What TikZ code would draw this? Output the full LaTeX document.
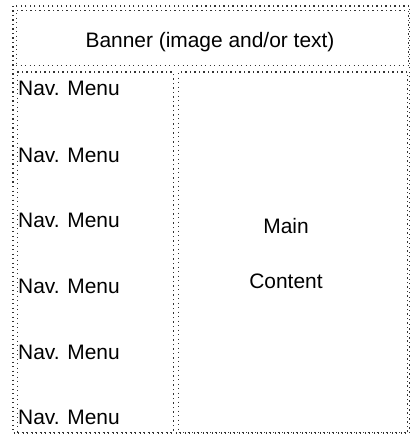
\documentclass[tikz,border=0pt]{standalone}
\usepackage{fontspec}
\setmainfont{Liberation Sans}
\begin{document}
\begin{tikzpicture}[x=1bp,y=-1bp,
  dotline/.style={draw=black!80, line width=1.1bp, dash pattern=on 1.1bp off 3.4bp},
  lbl/.style={font=\fontsize{21}{24}\selectfont, inner sep=0pt, text=black},
  navlbl/.style={lbl, anchor=west}]
\useasboundingbox (0,0) rectangle (411,437);
% outer table
\draw[dotline] (13,6) rectangle (409.5,433);
% cells
\node[dotline, minimum width=392bp, minimum height=55bp, anchor=north west, inner sep=0pt] (banner) at (15.5,10) {};
\node[dotline, minimum width=156bp, minimum height=360bp, anchor=north west, inner sep=0pt] (nav) at (16.5,71.5) {};
\node[dotline, minimum width=229bp, minimum height=360bp, anchor=north west, inner sep=0pt] (main) at (178,71.5) {};
% texts
\node[lbl] (bannertext) at (210,42) {Banner (image and/or text)};
\node[navlbl] (n1) at (18,88) {Nav. Menu};
\node[navlbl] (n2) at (18,155) {Nav. Menu};
\node[navlbl] (n3) at (18,220) {Nav. Menu};
\node[navlbl] (n4) at (18,286) {Nav. Menu};
\node[navlbl] (n5) at (18,352) {Nav. Menu};
\node[navlbl] (n6) at (18,417) {Nav. Menu};
\node[lbl] (m1) at (286,226) {Main};
\node[lbl] (m2) at (286,281) {Content};
\end{tikzpicture}
\end{document}
